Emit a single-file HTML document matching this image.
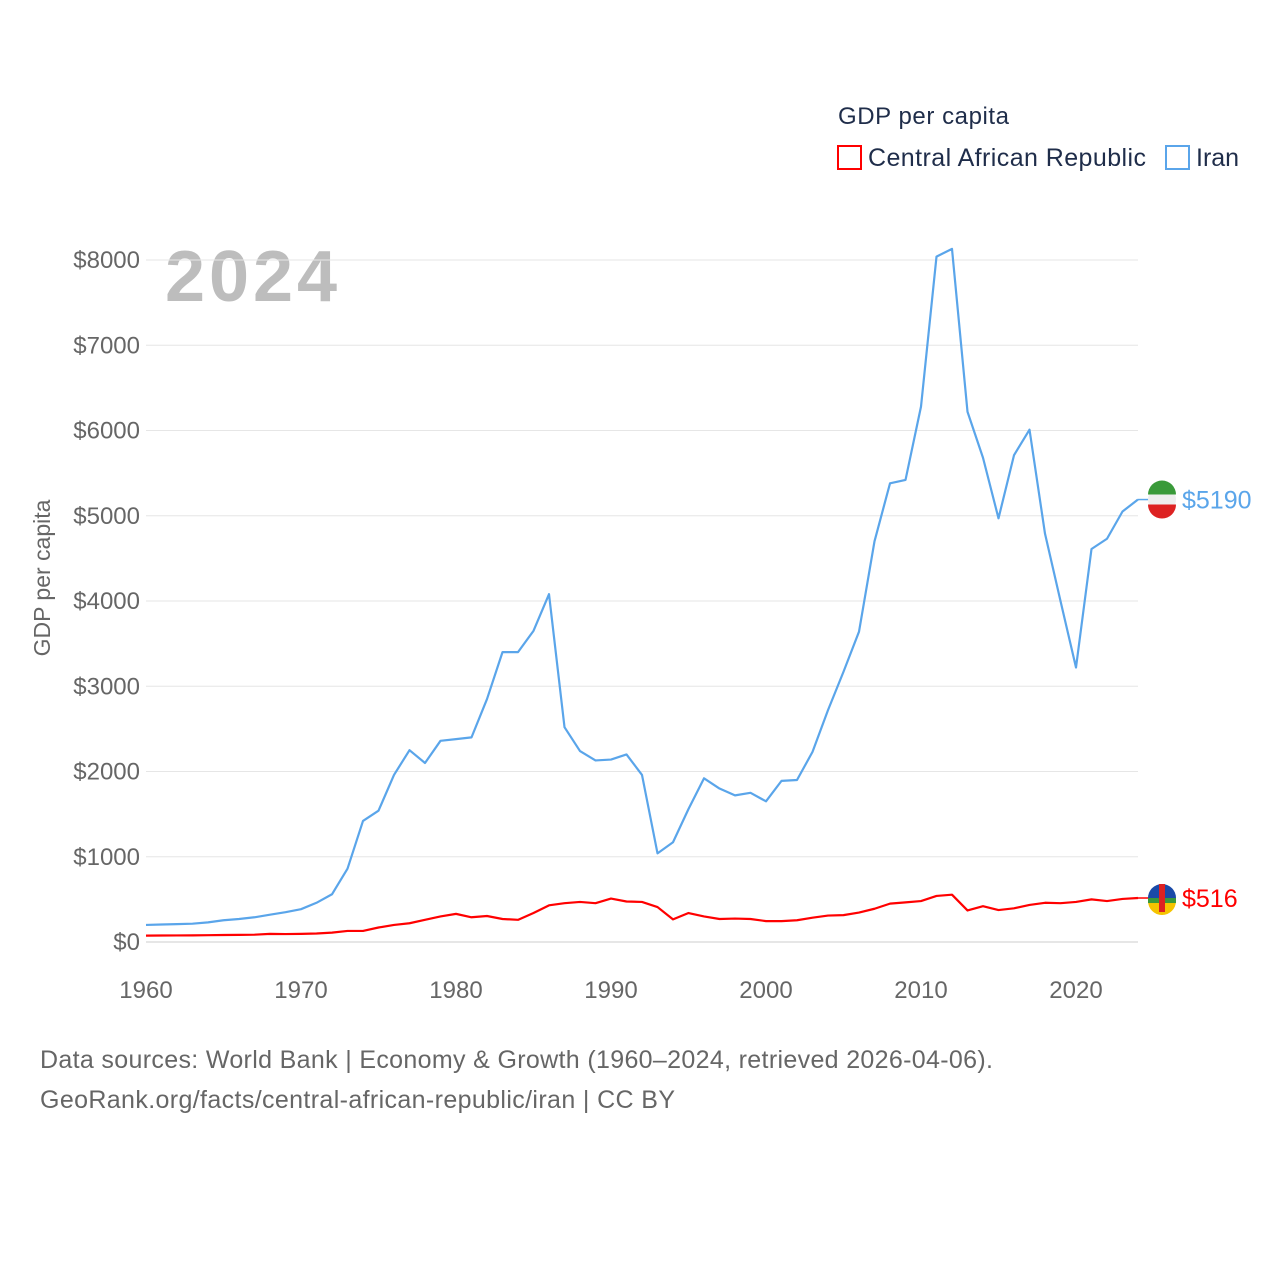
<!DOCTYPE html>
<html><head><meta charset="utf-8"><style>
body{margin:0;background:#fff;font-family:"Liberation Sans",sans-serif;}
svg text{font-family:"Liberation Sans",sans-serif;}
</style></head><body>
<svg id="chart" width="1280" height="1280" viewBox="0 0 1280 1280">
<text x="838" y="124" font-size="24" fill="#1f2d4a" textLength="171">GDP per capita</text>
<g><rect x="838" y="146" width="23" height="23" fill="none" stroke="#f00" stroke-width="2"/><text x="868" y="166" font-size="25" fill="#1f2d4a" textLength="278">Central African Republic</text></g>
<g><rect x="1166" y="146" width="23" height="23" fill="none" stroke="#5aa5ea" stroke-width="2"/><text x="1196" y="166" font-size="25" fill="#1f2d4a">Iran</text></g>
<text x="165" y="301" font-size="72" font-weight="bold" fill="#bdbdbd" textLength="172">2024</text>
<text transform="translate(50,578) rotate(-90)" text-anchor="middle" font-size="23" fill="#666">GDP per capita</text>
<g id="grid"></g><g id="yt"></g><g id="xt"></g><g id="lines"></g>
<text x="40" y="1068" font-size="25" fill="#666" textLength="953">Data sources: World Bank | Economy &amp; Growth (1960–2024, retrieved 2026-04-06).</text>
<text x="40" y="1108" font-size="25" fill="#666" textLength="635">GeoRank.org/facts/central-african-republic/iran | CC BY</text>
</svg>
<script>
const years=[];for(let y=1960;y<=2024;y++)years.push(y);
const iran=[200,205,210,215,230,255,270,290,320,350,385,460,560,860,1420,1540,1960,2250,2100,2360,2380,2400,2850,3400,3400,3650,4080,2520,2240,2130,2140,2200,1960,1040,1170,1560,1920,1800,1720,1750,1650,1890,1900,2230,2720,3170,3640,4700,5380,5420,6280,8040,8130,6220,5680,4970,5710,6010,4790,4000,3220,4610,4730,5050,5190];
const car=[75,76,77,78,80,82,84,86,95,93,95,100,110,130,130,170,200,220,260,300,330,290,305,270,260,340,430,455,470,455,510,475,470,410,265,340,300,270,275,270,245,245,255,285,310,315,345,390,450,465,480,540,555,370,420,375,395,435,460,455,470,500,480,505,516];
const yTicks=[0,1000,2000,3000,4000,5000,6000,7000,8000];
const xTicks=[1960,1970,1980,1990,2000,2010,2020];
const ns="http://www.w3.org/2000/svg";
const X=v=>146+(v-1960)*15.5, Y=v=>942-v*0.08525;
function el(t,a,p){const e=document.createElementNS(ns,t);for(const k in a)e.setAttribute(k,a[k]);document.getElementById(p).appendChild(e);return e;}
yTicks.forEach(v=>{
 const l=el('line',{x1:146,x2:1138,y1:Y(v),y2:Y(v),stroke:v?'#e6e6e6':'#ccc','stroke-width':1},'grid');
 
 
 const t=el('text',{x:140,y:Y(v)+8,'text-anchor':'end','font-size':24,fill:'#666'},'yt');t.textContent='$'+v;
 
 
});
xTicks.forEach(v=>{
 const t=el('text',{x:X(v),y:998,'text-anchor':'middle','font-size':24,fill:'#666'},'xt');t.textContent=v;
 
 
});
function series(d,c,name,label){
 const p=el('polyline',{points:d.map((v,i)=>X(years[i])+','+Y(v)).join(' '),fill:'none',stroke:c,'stroke-width':2.2,'stroke-linejoin':'round'},'lines');
 
 
 const last=d[d.length-1];
 const ln=el('line',{x1:X(2024),x2:1150,y1:Y(last),y2:Y(last),stroke:c,'stroke-width':1.5},'lines');
 
 
 const f=el('circle',{cx:1162,cy:Y(last),r:14,fill:name==='iran'?'#eee':'#1a4aa8'},'lines');
 
 
 if(name==='iran'){el('path',{d:`M1148 ${Y(last)-5} a14 14 0 0 1 28 0z`,fill:'#3a9a3a'},'lines');el('path',{d:`M1148 ${Y(last)+5} a14 14 0 0 0 28 0z`,fill:'#d22'},'lines');}
 else{el('path',{d:`M1148 ${Y(last)+3} a14 14 0 0 0 28 0z`,fill:'#f5c400'},'lines');el('rect',{x:1148,y:Y(last),width:28,height:5,fill:'#3a9a3a'},'lines');el('rect',{x:1159,y:Y(last)-14,width:6,height:28,fill:'#d22'},'lines');}
 const t=el('text',{x:1182,y:Y(last)+9,'font-size':25,fill:c},'lines');t.textContent=label;
 
 
}
series(iran,'#5aa5ea','iran','$'+iran[iran.length-1]);
series(car,'#f00','car','$'+car[car.length-1]);
</script>
</body></html>
